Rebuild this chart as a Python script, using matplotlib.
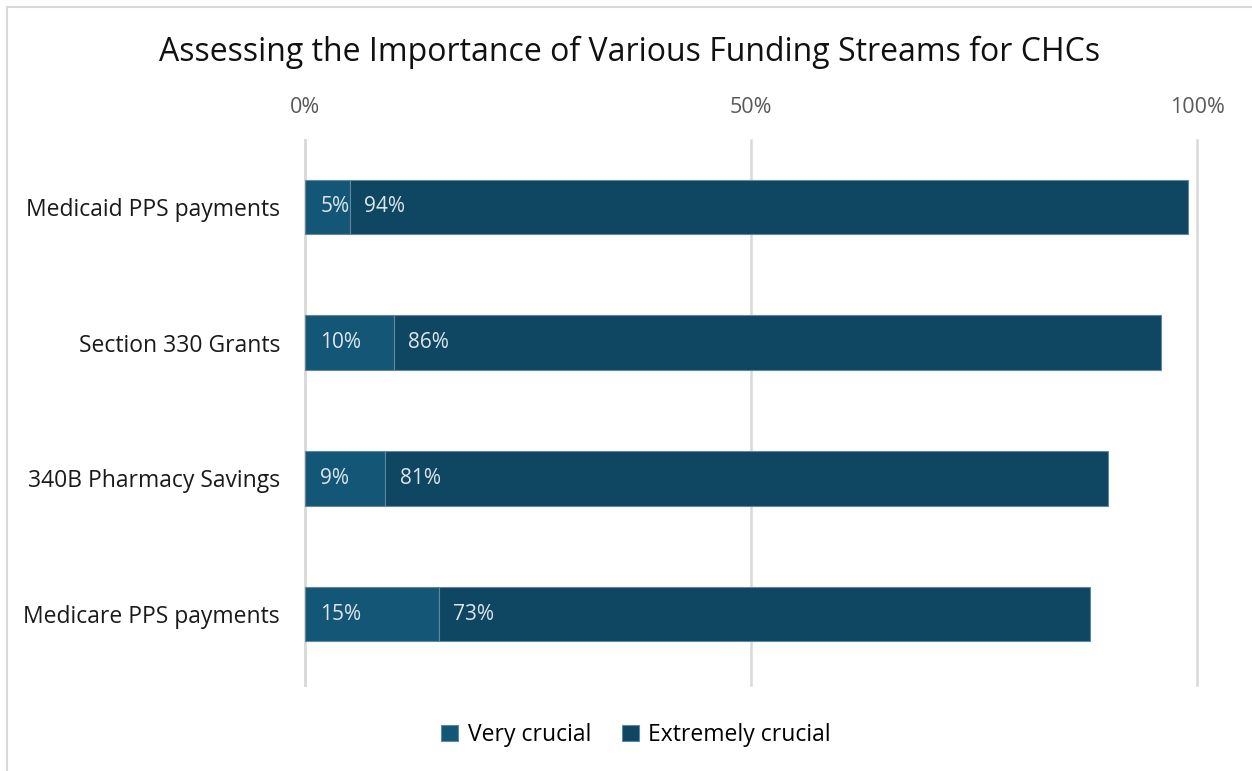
import matplotlib.pyplot as plt
from matplotlib.patches import Rectangle

# Survey results (% of respondents)
categories = ["Medicaid PPS payments", "Section 330 Grants",
              "340B Pharmacy Savings", "Medicare PPS payments"]
very_crucial = [5, 10, 9, 15]
extremely_crucial = [94, 86, 81, 73]
x_ticks = [0, 50, 100]
x_tick_labels = ["0%", "50%", "100%"]

c_very = "#145676"
c_extreme = "#0f4661"
edge = "#5d8aa0"

plt.rcParams['font.family'] = ['Open Sans', 'DejaVu Sans']

fig = plt.figure(figsize=(12.52, 7.71), dpi=100)
ax = fig.add_axes([305 / 1252, 1 - 685 / 771, 892 / 1252, 545 / 771])

# light frame round the whole chart
fig.patches.append(Rectangle((7 / 1252, -0.05), 1.2, 1 - 7 / 771 + 0.05,
                             transform=fig.transFigure, fill=False,
                             edgecolor="#d9d9d9", linewidth=1.5))

ypos = list(range(len(categories)))
h = 0.4
ax.barh(ypos, very_crucial, height=h, color=c_very, edgecolor=edge,
        linewidth=0.8, label="Very crucial", zorder=3)
ax.barh(ypos, extremely_crucial, left=very_crucial, height=h, color=c_extreme,
        edgecolor=edge, linewidth=0.8, label="Extremely crucial", zorder=3)

for y, v, e in zip(ypos, very_crucial, extremely_crucial):
    ax.text(1.7, y, f"{v}%", va="center", ha="left", color="#dce6ec",
            fontsize=15, zorder=4)
    ax.text(v + 1.6, y, f"{e}%", va="center", ha="left", color="#dce6ec",
            fontsize=15, zorder=4)

ax.set_xlim(0, 100)
ax.set_ylim(3 + 71 / 136, -67 / 136)
ax.set_yticks(ypos)
ax.set_yticklabels(categories, fontsize=16.5, color="#1a1a1a")
ax.set_xticks(x_ticks)
ax.set_xticklabels(x_tick_labels, fontsize=15.5, color="#595959")
ax.xaxis.tick_top()
ax.tick_params(axis="both", length=0)
ax.tick_params(axis="x", pad=16)
ax.tick_params(axis="y", pad=18)
ax.grid(axis="x", color="#d9d9d9", linewidth=1.8, zorder=0)
for gl in ax.get_xgridlines():
    gl.set_clip_on(False)
for s in ["top", "right", "bottom"]:
    ax.spines[s].set_visible(False)
ax.spines["left"].set_color("#d9d9d9")
ax.spines["left"].set_linewidth(1.8)

fig.suptitle("Assessing the Importance of Various Funding Streams for CHCs",
             x=630 / 1252, y=1 - 52 / 771, va="center", fontsize=23,
             color="#111111")

fig.legend(loc="center", bbox_to_anchor=(636 / 1252, 1 - 735 / 771), ncol=2,
           frameon=False, fontsize=16.5, handlelength=0.75, handleheight=0.75,
           handletextpad=0.4, columnspacing=1.35)

fig.savefig("out.png", dpi=100)
